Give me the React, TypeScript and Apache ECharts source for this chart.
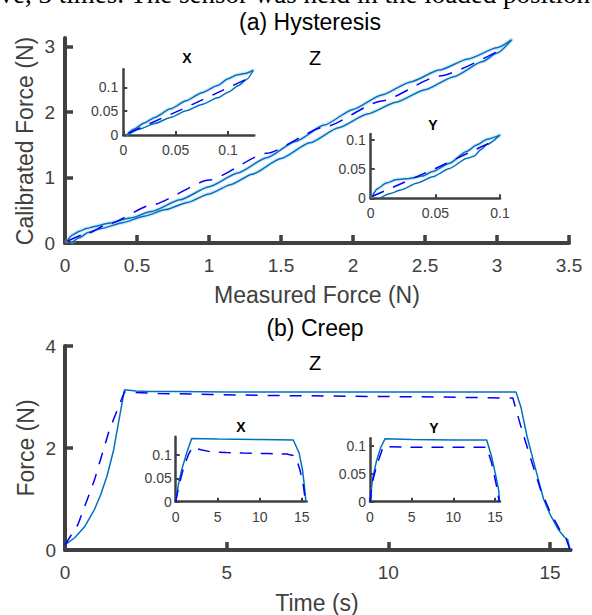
import React, { useEffect, useRef } from "react";
import * as echarts from "echarts";

// ---------- texts ----------
const captionText = "ove, 3 times. The sensor was held in the loaded position";
const titleA = "(a) Hysteresis";
const titleB = "(b) Creep";
const xNameA = "Measured Force (N)";
const yNameA = "Calibrated Force (N)";
const xNameB = "Time (s)";
const yNameB = "Force (N)";
const labelZ = "Z";
const labelX = "X";
const labelY = "Y";

// ---------- tick values ----------
const ticksAX = [0, 0.5, 1, 1.5, 2, 2.5, 3, 3.5];
const ticksAY = [0, 1, 2, 3];
const ticksInsetA = [0, 0.05, 0.1];
const ticksBX = [0, 5, 10, 15];
const ticksBY = [0, 2, 4];
const ticksInsetBX = [0, 5, 10, 15];
const ticksInsetBY = [0, 0.05, 0.1];

// ---------- (a) Hysteresis, Z (main) ----------
const zUpX = [0.01, 0.05, 0.1, 0.15, 0.2, 0.3, 0.45, 0.6, 0.8, 1.0, 1.2, 1.4, 1.6, 1.8, 2.0, 2.2, 2.4, 2.6, 2.8, 3.0, 3.1];
const zUpY = [0.02, 0.12, 0.18, 0.22, 0.25, 0.3, 0.38, 0.48, 0.66, 0.86, 1.07, 1.3, 1.55, 1.8, 2.04, 2.26, 2.46, 2.64, 2.81, 2.98, 3.1];
const zLoX = [0.05, 0.1, 0.16, 0.25, 0.4, 0.55, 0.7, 0.85, 1.0, 1.15, 1.3, 1.5, 1.7, 1.9, 2.1, 2.3, 2.5, 2.7, 2.9, 3.0, 3.1];
const zLoY = [0.01, 0.08, 0.16, 0.22, 0.31, 0.41, 0.51, 0.62, 0.75, 0.89, 1.05, 1.29, 1.53, 1.76, 1.97, 2.15, 2.34, 2.54, 2.77, 2.9, 3.1];
const zFitX = [0.02, 0.16, 0.3, 0.6, 1.0, 1.4, 1.8, 2.2, 2.6, 3.05];
const zFitY = [0.03, 0.15, 0.29, 0.58, 0.96, 1.37, 1.77, 2.17, 2.55, 2.98];

// ---------- (a) inset X ----------
const hxUpX = [0.004, 0.01, 0.02, 0.03, 0.045, 0.06, 0.075, 0.09, 0.1, 0.108, 0.116, 0.124];
const hxUpY = [0.002, 0.012, 0.025, 0.037, 0.055, 0.072, 0.089, 0.104, 0.118, 0.126, 0.129, 0.136];
const hxLoX = [0.004, 0.015, 0.03, 0.045, 0.06, 0.075, 0.09, 0.1, 0.11, 0.118, 0.124];
const hxLoY = [0.0, 0.012, 0.024, 0.037, 0.051, 0.064, 0.078, 0.09, 0.104, 0.117, 0.136];
const hxFitX = [0.005, 0.06, 0.121];
const hxFitY = [0.004, 0.058, 0.121];

// ---------- (a) inset Y ----------
const hyUpX = [0.001, 0.005, 0.012, 0.02, 0.03, 0.04, 0.048, 0.061, 0.074, 0.082, 0.09, 0.1];
const hyUpY = [0.003, 0.016, 0.026, 0.032, 0.034, 0.038, 0.046, 0.06, 0.08, 0.091, 0.101, 0.108];
const hyLoX = [0.007, 0.015, 0.023, 0.036, 0.048, 0.061, 0.074, 0.08, 0.085, 0.09, 0.1];
const hyLoY = [0.0, 0.008, 0.014, 0.026, 0.037, 0.051, 0.068, 0.072, 0.083, 0.092, 0.108];
const hyFitX = [0.001, 0.05, 0.097];
const hyFitY = [0.003, 0.051, 0.1];

// ---------- (b) Creep, Z (main) ----------
const czT = [0, 0.3, 0.6, 0.9, 1.1, 1.3, 1.5, 1.67, 1.84, 2.2, 2.6, 3.5, 5, 7, 9, 11, 13, 13.95, 14.1, 14.3, 14.56, 14.8, 15.0, 15.26, 15.45, 15.55, 15.62];
const czF = [0.1, 0.24, 0.45, 0.78, 1.08, 1.45, 1.95, 2.55, 3.14, 3.12, 3.11, 3.11, 3.1, 3.1, 3.1, 3.1, 3.1, 3.1, 2.8, 2.2, 1.57, 1.0, 0.7, 0.4, 0.25, 0.2, 0.0];
const czFitT = [0, 0.4, 0.91, 1.37, 1.84, 2.9, 4.5, 6.2, 8, 9.7, 11.5, 13.6, 13.85, 14.1, 14.4, 14.7, 15.0, 15.3, 15.5, 15.62];
const czFitF = [0.1, 0.5, 1.37, 2.35, 3.1, 3.07, 3.05, 3.03, 3.02, 3.01, 3.0, 2.98, 2.98, 2.42, 1.8, 1.2, 0.75, 0.4, 0.22, 0.0];

// ---------- (b) inset X ----------
const cxT = [0, 0.3, 0.71, 1.31, 1.9, 5, 10, 14.0, 14.7, 15.1, 15.35, 15.5];
const cxF = [0, 0.035, 0.068, 0.104, 0.135, 0.134, 0.133, 0.132, 0.104, 0.068, 0.03, 0];
const cxFitT = [0, 0.4, 0.9, 1.5, 1.98, 3, 4.08, 6, 8.05, 11, 13.2, 14.0, 14.5, 14.8, 15.2, 15.45];
const cxFitF = [0, 0.035, 0.07, 0.1, 0.116, 0.111, 0.107, 0.105, 0.104, 0.103, 0.102, 0.099, 0.085, 0.068, 0.035, 0];

// ---------- (b) inset Y ----------
const cyT = [0, 0.3, 0.8, 1.3, 1.8, 5, 10, 14.0, 14.6, 15.2, 15.45, 15.55];
const cyF = [0, 0.04, 0.074, 0.097, 0.112, 0.111, 0.11, 0.11, 0.08, 0.039, 0.02, 0];
const cyFitT = [0, 0.3, 0.8, 1.6, 2.1, 5, 10, 14.0, 14.6, 15.2, 15.5];
const cyFitF = [0, 0.035, 0.065, 0.098, 0.098, 0.097, 0.097, 0.097, 0.069, 0.027, 0];

const FF = '"Liberation Sans", Arial, Helvetica, sans-serif';
const AX = "#404040";
const SOLID = "#0072BD";
const DASH = "#0000FF";
const SHADE = "rgba(150,196,234,0.35)";

const zip = (xs: number[], ys: number[]) => xs.map((x, i) => [x, ys[i]]);

function mkAxis(gi: number, min: number, max: number, ticks: number[], big: boolean, margin: number) {
  return {
    gridIndex: gi, type: "value", min, max,
    axisLine: { show: true, onZero: false, lineStyle: { color: AX, width: big ? 4 : 2.5 } },
    axisTick: { show: true, inside: true, length: big ? 8 : 4, customValues: ticks, lineStyle: { color: AX, width: big ? 3.5 : 2 } },
    axisLabel: { fontSize: big ? 19 : 14, color: AX, margin, fontFamily: FF, hideOverlap: false, customValues: ticks },
    splitLine: { show: false },
  };
}
function line(gi: number, data: number[][], kind: "solid" | "dash" | "shade", dash: number[], smooth: number, wide = 5) {
  const ls: any =
    kind === "solid" ? { color: SOLID, width: 1.5 } :
    kind === "dash" ? { color: DASH, width: 1.5, type: dash } :
    { color: SHADE, width: wide, cap: "round", join: "round" };
  return {
    type: "line", xAxisIndex: gi, yAxisIndex: gi, data, symbol: "none", showSymbol: false,
    smooth, smoothMonotone: "x", lineStyle: ls, silent: true,
    z: kind === "shade" ? 2 : kind === "solid" ? 3 : 4,
  };
}
function txt(text: string, x: number, y: number, size: number, opts: any = {}) {
  return {
    type: "text", x, y, rotation: opts.rotation || 0, silent: true,
    style: {
      text, fontSize: size, fontFamily: opts.family || FF, fontWeight: opts.weight || "normal",
      fill: opts.fill || "#000", textAlign: opts.align || "center", textVerticalAlign: "middle",
      align: opts.align || "center", verticalAlign: "middle",
    },
  };
}

export default function App() {
  const ref = useRef<HTMLDivElement>(null);
  useEffect(() => {
    if (!ref.current) return;
    const chart = echarts.init(ref.current, undefined, { renderer: "svg" });
    const grids = [
      { left: 65, top: 38, width: 504, height: 205 },
      { left: 123.3, top: 69.3, width: 131, height: 65.7 },
      { left: 370.7, top: 134, width: 129.3, height: 64.3 },
      { left: 65, top: 346, width: 505.7, height: 204 },
      { left: 175.7, top: 436.7, width: 131, height: 65 },
      { left: 370, top: 438.3, width: 130, height: 63.4 },
    ].map((g) => ({ ...g, containLabel: false, outerBoundsMode: "none", show: false }));

    const option: any = {
      animation: false,
      backgroundColor: "#ffffff",
      grid: grids,
      xAxis: [
        mkAxis(0, 0, 3.5, ticksAX, true, 13),
        mkAxis(1, 0, 0.125, ticksInsetA, false, 8),
        mkAxis(2, 0, 0.1, ticksInsetA, false, 8),
        mkAxis(3, 0, 15.64, ticksBX, true, 13),
        mkAxis(4, 0, 15.6, ticksInsetBX, false, 8),
        mkAxis(5, 0, 15.6, ticksInsetBX, false, 8),
      ],
      yAxis: [
        mkAxis(0, 0, 3.13, ticksAY, true, 10),
        mkAxis(1, 0, 0.138, ticksInsetA, false, 5),
        mkAxis(2, 0, 0.11, ticksInsetA, false, 5),
        mkAxis(3, 0, 4, ticksBY, true, 9),
        mkAxis(4, 0, 0.139, ticksInsetBY, false, 4),
        mkAxis(5, 0, 0.113, ticksInsetBY, false, 4),
      ],
      series: [
        // (a) main
        line(0, zip(zUpX, zUpY), "shade", [], 0.2, 4),
        line(0, zip(zLoX, zLoY), "shade", [], 0.2, 4),
        line(0, zip(zUpX, zUpY), "solid", [], 0.2),
        line(0, zip(zLoX, zLoY), "solid", [], 0.2),
        line(0, zip(zFitX, zFitY), "dash", [14, 10], 0.2),
        // (a) inset X
        line(1, zip(hxUpX, hxUpY), "shade", [], 0.2, 4),
        line(1, zip(hxUpX, hxUpY), "solid", [], 0.2),
        line(1, zip(hxLoX, hxLoY), "solid", [], 0.2),
        line(1, zip(hxFitX, hxFitY), "dash", [13, 10], 0),
        // (a) inset Y
        line(2, zip(hyUpX, hyUpY), "shade", [], 0.2, 4),
        line(2, zip(hyUpX, hyUpY), "solid", [], 0.2),
        line(2, zip(hyLoX, hyLoY), "solid", [], 0.2),
        line(2, zip(hyFitX, hyFitY), "dash", [13, 10], 0),
        // (b) main
        line(3, zip(czT, czF), "solid", [], 0),
        line(3, zip(czFitT, czFitF), "dash", [12, 10], 0),
        // (b) inset X
        line(4, zip(cxT, cxF), "solid", [], 0),
        line(4, zip(cxFitT, cxFitF), "dash", [12, 9], 0),
        // (b) inset Y
        line(5, zip(cyT, cyF), "solid", [], 0),
        line(5, zip(cyFitT, cyFitF), "dash", [12, 9], 0),
      ],
      graphic: [
        txt(captionText, -14, -6, 27, { family: '"Liberation Serif", "Times New Roman", serif', align: "left" }),
        txt(titleA, 310, 22, 23),
        txt(titleB, 315, 328, 23),
        txt(xNameA, 317, 295, 23, { fill: AX }),
        txt(yNameA, 25, 141, 23, { fill: AX, rotation: Math.PI / 2 }),
        txt(xNameB, 317, 603, 23, { fill: AX }),
        txt(yNameB, 26, 448, 23, { fill: AX, rotation: Math.PI / 2 }),
        txt(labelZ, 315, 58, 20),
        txt(labelZ, 315, 362.5, 20),
        txt(labelX, 187, 58, 14, { weight: "bold" }),
        txt(labelY, 433, 124.5, 14, { weight: "bold" }),
        txt(labelX, 241, 427, 14, { weight: "bold" }),
        txt(labelY, 434, 428, 14, { weight: "bold" }),
      ],
    };
    chart.setOption(option);
    return () => chart.dispose();
  }, []);
  return (
    <div
      ref={ref}
      style={{ position: "absolute", left: 0, top: 0, width: 592, height: 615, background: "#fff" }}
    />
  );
}
